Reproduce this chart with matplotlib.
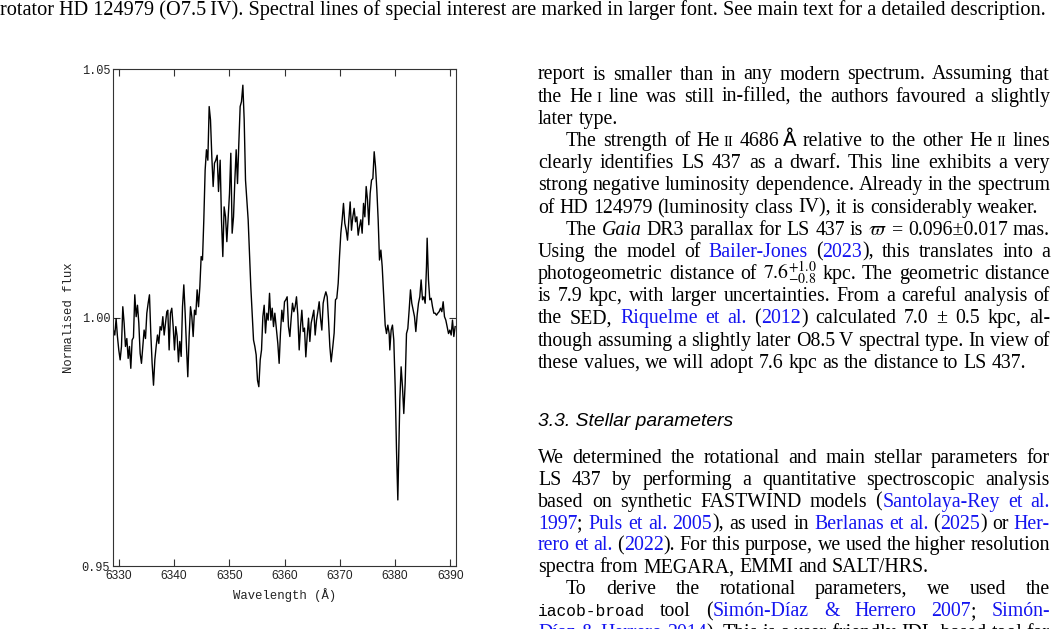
import matplotlib
matplotlib.use('Agg')
import matplotlib.pyplot as plt

plt.rcParams['mathtext.fontset'] = 'stix'

# spectrum (wavelength in A, normalised flux)
wave = [6329.03, 6329.27, 6329.51, 6329.75, 6329.99, 6330.24, 6330.48, 6330.72, 6330.96, 6331.20,
        6331.45, 6331.69, 6331.93, 6332.17, 6332.41, 6332.65, 6332.89, 6333.14, 6333.38, 6333.62,
        6333.86, 6334.10, 6334.34, 6334.58, 6334.83, 6335.07, 6335.31, 6335.55, 6335.79, 6336.03,
        6336.28, 6336.52, 6336.76, 6337.00, 6337.24, 6337.48, 6337.72, 6337.97, 6338.21, 6338.45,
        6338.69,
        6338.87, 6339.11, 6339.35, 6339.59, 6339.84, 6340.08, 6340.32, 6340.56, 6340.80, 6341.04,
        6341.29, 6341.53, 6341.77, 6342.01, 6342.25, 6342.49, 6342.73, 6342.98, 6343.22, 6343.46,
        6343.70, 6343.94, 6344.18, 6344.43, 6344.67, 6344.91, 6345.15, 6345.39, 6345.63, 6345.87,
        6346.12, 6346.36, 6346.60, 6346.84, 6347.08, 6347.32, 6347.56, 6347.81, 6348.05,
        6348.35, 6348.59, 6348.83, 6349.07, 6349.32, 6349.56, 6349.80, 6350.04, 6350.28, 6350.52,
        6350.77, 6351.01, 6351.25, 6351.49, 6351.73, 6351.97, 6352.21, 6352.46, 6352.70, 6352.94,
        6353.18, 6353.42, 6353.66, 6353.90, 6354.15, 6354.39, 6354.63, 6354.87, 6355.11, 6355.35,
        6355.60, 6355.84, 6356.08, 6356.32, 6356.56, 6356.80, 6357.04, 6357.29, 6357.53, 6357.77,
        6358.01, 6358.25,
        6358.55, 6358.79, 6359.03, 6359.27, 6359.52, 6359.76, 6360.00, 6360.24, 6360.48, 6360.72,
        6360.97, 6361.21, 6361.45, 6361.69, 6361.93, 6362.17, 6362.41, 6362.66, 6362.90, 6363.14,
        6363.38, 6363.62, 6363.86, 6364.10, 6364.35, 6364.59, 6364.83, 6365.07, 6365.31, 6365.55,
        6365.80, 6366.04, 6366.28, 6366.52, 6366.76, 6367.00, 6367.24, 6367.49, 6367.73, 6367.97,
        6368.21, 6368.45,
        6368.75, 6368.99, 6369.23, 6369.47, 6369.72, 6369.96, 6370.20, 6370.44, 6370.68, 6370.92,
        6371.17, 6371.41, 6371.65, 6371.89, 6372.13, 6372.37, 6372.61, 6372.86, 6373.10, 6373.34,
        6373.58, 6373.82, 6374.06, 6374.31, 6374.55, 6374.79, 6375.03, 6375.27, 6375.51, 6375.76,
        6376.00, 6376.24, 6376.48, 6376.72, 6376.96, 6377.20, 6377.45, 6377.69, 6377.93,
        6378.23, 6378.47, 6378.71, 6378.95, 6379.07, 6379.31, 6379.55, 6379.79, 6380.04, 6380.28,
        6380.52, 6380.70, 6380.88, 6381.12, 6381.36, 6381.60, 6381.85, 6382.09, 6382.33, 6382.57,
        6382.81, 6383.05, 6383.30, 6383.54, 6383.78, 6384.02, 6384.26, 6384.50, 6384.74, 6384.99,
        6385.23, 6385.47, 6385.71, 6385.83, 6386.07, 6386.31, 6386.56, 6386.80, 6387.04, 6387.28,
        6387.52, 6387.76, 6388.00, 6388.25, 6388.49, 6388.73, 6388.97, 6389.21, 6389.45, 6389.70,
        6389.94, 6390.18, 6390.42, 6390.66, 6390.90]

flux = [0.9975, 0.9965, 0.9998, 0.9962, 0.9935, 0.9915, 0.9942, 1.0022, 0.9989, 0.9942,
        0.9958, 0.9918, 0.9942, 0.9898, 0.9955, 0.9960, 1.0046, 1.0002, 1.0025, 0.9989,
        0.9928, 0.9908, 0.9942, 0.9975, 0.9958, 1.0009, 1.0029, 1.0046, 0.9968, 0.9908,
        0.9864, 0.9915, 0.9942, 0.9965, 0.9948, 0.9982, 0.9975, 1.0002, 0.9965, 0.9989,
        1.0012,
        1.0015, 0.9935, 1.0009, 1.0019, 0.9982, 0.9935, 0.9982, 0.9962, 0.9911, 0.9952,
        0.9922, 1.0022, 1.0066, 1.0009, 0.9942, 0.9881, 0.9962, 1.0022, 1.0002, 0.9962,
        1.0015, 1.0006, 1.0056, 1.0022, 1.0062, 1.0123, 1.0116, 1.0197, 1.0297, 1.0338,
        1.0317, 1.0425, 1.0398, 1.0324, 1.0264, 1.0311, 1.0317, 1.0327, 1.0254,
        1.0317, 1.0197, 1.0123, 1.0223, 1.0203, 1.0153, 1.0203, 1.0250, 1.0331, 1.0170,
        1.0203, 1.0277, 1.0338, 1.0270, 1.0351, 1.0425, 1.0435, 1.0468, 1.0398, 1.0277,
        1.0237, 1.0197, 1.0130, 1.0062, 1.0009, 0.9955, 0.9942, 0.9925, 0.9874, 0.9861,
        0.9915, 0.9935, 1.0002, 1.0025, 0.9969, 1.0009, 0.9995, 1.0049, 0.9995, 1.0019,
        0.9982, 1.0009,
        0.9975, 0.9948, 0.9908, 0.9969, 1.0015, 0.9992, 1.0032, 1.0036, 1.0042, 0.9982,
        0.9962, 0.9999, 1.0029, 1.0012, 1.0022, 1.0042, 1.0005, 0.9935, 0.9982, 1.0015,
        0.9972, 0.9979, 0.9921, 0.9962, 0.9999, 0.9952, 0.9989, 1.0002, 1.0015, 0.9965,
        0.9995, 1.0012, 1.0032, 0.9999, 0.9975, 1.0029, 1.0042, 1.0052, 1.0042, 0.9995,
        0.9942, 0.9911,
        0.9942, 0.9969, 1.0036, 1.0039, 1.0069, 1.0123, 1.0170, 1.0197, 1.0230, 1.0190,
        1.0176, 1.0156, 1.0197, 1.0233, 1.0176, 1.0203, 1.0220, 1.0193, 1.0203, 1.0166,
        1.0183, 1.0197, 1.0170, 1.0230, 1.0203, 1.0264, 1.0237, 1.0187, 1.0250, 1.0277,
        1.0280, 1.0334, 1.0304, 1.0257, 1.0197, 1.0116, 1.0136, 1.0103, 1.0049,
        0.9985, 0.9968, 0.9985, 0.9968, 0.9935, 0.9975, 0.9985, 0.9955, 0.9861, 0.9734,
        0.9633, 0.9734, 0.9834, 0.9901, 0.9861, 0.9807, 0.9868, 0.9968, 0.9978, 1.0015,
        1.0056, 1.0029, 1.0015, 1.0002, 0.9972, 1.0005, 1.0029, 1.0042, 1.0076, 1.0036,
        1.0042, 1.0029, 1.0103, 1.0160, 1.0076, 1.0036, 1.0039, 1.0022, 1.0009, 1.0009,
        1.0005, 1.0009, 1.0012, 1.0019, 1.0012, 1.0032, 1.0002, 0.9995, 0.9982, 0.9968,
        0.9975, 0.9965, 0.9995, 0.9962, 0.9982]

xticks = [6330, 6340, 6350, 6360, 6370, 6380, 6390]
yticks = [0.95, 1.00, 1.05]

W, H = 1058, 629
fig = plt.figure(figsize=(W / 100, H / 100), dpi=100)
fig.patch.set_facecolor('white')

ax = fig.add_axes([113.3 / W, 1 - 566 / H, (455.7 - 113.3) / W, (566 - 69.3) / H])
ax.plot(wave, flux, color='black', lw=1.0)
ax.set_xlim(6329.0, 6391.0)
ax.set_ylim(0.95, 1.05)
ax.set_xticks(xticks)
ax.set_yticks(yticks)
ax.set_xticklabels([str(t) for t in xticks], family='Liberation Sans', fontsize=8.6, color='#222222')
ax.set_yticklabels(['%.2f' % t for t in yticks], family='Liberation Mono', fontsize=8.6, color='#222222')
ax.tick_params(direction='in', length=5, width=0.8, top=True, right=True, color='#333333')
ax.tick_params(axis='x', pad=3.2)
ax.tick_params(axis='y', pad=2.2)
for s in ax.spines.values():
    s.set_linewidth(0.8)
    s.set_color('#333333')
ax.set_xlabel('Wavelength (Å)', family='Liberation Mono', fontsize=8.8, color='#222222', labelpad=4)
ax.set_ylabel('Normalised flux', family='Liberation Mono', fontsize=8.8, color='#222222', labelpad=5)

# ---- surrounding page text ----
renderer = fig.canvas.get_renderer()
BODY = 14.3
BLUE = '#1414f0'
STY = {
    'n': dict(family='Liberation Serif', color='black'),
    'b': dict(family='Liberation Serif', color=BLUE),
    'i': dict(family='Liberation Serif', style='italic', color='black'),
    'm': dict(family='Liberation Mono', color='black'),
    'mt': dict(color='black'),
    'sc': dict(family='Liberation Serif', color='black'),
}
SCALE = {'sc': 0.72, 'm': 0.82}


def words_of(runs):
    words = [[]]
    for txt, kind in runs:
        if kind in ('thin', 'sc', 'mt'):
            words[-1].append((txt, kind))
            continue
        parts = txt.split(' ')
        for i, p in enumerate(parts):
            if i > 0:
                words.append([])
            if p:
                words[-1].append((p, kind))
    return [w for w in words if w]


def put_line(runs, yc, x0=538, x1=1050, justify=True, indent=0, size=BODY):
    ws = words_of(runs)
    placed = []
    widths = []
    em = size * 100 / 72
    for w in ws:
        frags = []
        tot = 0
        for txt, kind in w:
            if kind == 'thin':
                frags.append((None, em * 0.17))
                tot += em * 0.17
                continue
            fs = size * SCALE.get(kind, 1.0)
            t = fig.text(0, 0, txt, fontsize=fs, va='baseline', ha='left', **STY[kind])
            wd = t.get_window_extent(renderer).width
            frags.append((t, wd))
            tot += wd
        placed.append(frags)
        widths.append(tot)
    avail = x1 - x0 - indent
    if justify and len(ws) > 1:
        gap = (avail - sum(widths)) / (len(ws) - 1)
    else:
        gap = em * 0.25
    x = x0 + indent
    yb = yc + 4.5
    for frags, tw in zip(placed, widths):
        for t, wd in frags:
            if t is not None:
                t.set_position((x / W, 1 - yb / H))
            x += wd
        x += gap


# caption fragment at top of the page (last caption line, natural spacing)
caption = ("rotator HD 124979 (O7.5\u2009IV). Spectral lines of special interest are marked in larger font. "
           "See main text for a detailed description.")
probe = fig.text(0, 0, caption, fontsize=10, family='Liberation Serif')
cap_size = 10 * 1045 / probe.get_window_extent(renderer).width
probe.remove()
fig.text(0, 1 - 14.5 / H, caption, fontsize=cap_size, family='Liberation Serif', va='baseline', ha='left')

col1 = [
    ([("report is smaller than in any modern spectrum. Assuming that", 'n')], True, 0),
    ([("the He", 'n'), ("", 'thin'), ("I", 'sc'), (" line was still in-filled, the authors favoured a slightly", 'n')], True, 0),
    ([("later type.", 'n')], False, 0),
    ([("The strength of He", 'n'), ("", 'thin'), ("II", 'sc'), (" 4686", 'n'), ("", 'thin'), ("Å", 'mt'),
      (" relative to the other He", 'n'), ("", 'thin'), ("II", 'sc'), (" lines", 'n')], True, 28),
    ([("clearly identifies LS 437 as a dwarf. This line exhibits a very", 'n')], True, 0),
    ([("strong negative luminosity dependence. Already in the spectrum", 'n')], True, 0),
    ([("of HD 124979 (luminosity class IV), it is considerably weaker.", 'n')], False, 0),
    ([("The ", 'n'), ("Gaia", 'i'), (" DR3 parallax for LS 437 is ", 'n'), (r"$\varpi$", 'mt'),
      (" = 0.096±0.017 mas.", 'n')], True, 28),
    ([("Using the model of ", 'n'), ("Bailer-Jones", 'b'), (" (", 'n'), ("2023", 'b'),
      ("), this translates into a", 'n')], True, 0),
    ([("photogeometric distance of ", 'n'), (r"$7.6^{+1.0}_{-0.8}$", 'mt'),
      (" kpc. The geometric distance", 'n')], True, 0),
    ([("is 7.9 kpc, with larger uncertainties. From a careful analysis of", 'n')], True, 0),
    ([("the SED, ", 'n'), ("Riquelme et al.", 'b'), (" (", 'n'), ("2012", 'b'),
      (") calculated 7.0 ± 0.5 kpc, al-", 'n')], True, 0),
    ([("though assuming a slightly later O8.5", 'n'), ("", 'thin'), ("V spectral type. In view of", 'n')], True, 0),
    ([("these values, we will adopt 7.6 kpc as the distance to LS 437.", 'n')], False, 0),
]
for i, (runs, just, ind) in enumerate(col1):
    put_line(runs, 75 + 22.18 * i, justify=just, indent=ind)

fig.text(538 / W, 1 - 426.5 / H, '3.3. Stellar parameters', family='Liberation Sans', style='italic',
         fontsize=13.9, va='baseline', ha='left', color='black')

col2 = [
    ([("We determined the rotational and main stellar parameters for", 'n')], True, 0),
    ([("LS 437 by performing a quantitative spectroscopic analysis", 'n')], True, 0),
    ([("based on synthetic FASTWIND models (", 'n'), ("Santolaya-Rey et al.", 'b')], True, 0),
    ([("1997", 'b'), ("; ", 'n'), ("Puls et al. 2005", 'b'), ("), as used in ", 'n'), ("Berlanas et al.", 'b'),
      (" (", 'n'), ("2025", 'b'), (") or ", 'n'), ("Her-", 'b')], True, 0),
    ([("rero et al.", 'b'), (" (", 'n'), ("2022", 'b'),
      ("). For this purpose, we used the higher resolution", 'n')], True, 0),
    ([("spectra from MEGARA, EMMI and SALT/HRS.", 'n')], False, 0),
    ([("To derive the rotational parameters, we used the", 'n')], True, 28),
    ([("iacob-broad", 'm'), (" tool (", 'n'), ("Simón-Díaz & Herrero 2007", 'b'), ("; ", 'n'),
      ("Simón-", 'b')], True, 0),
    ([("Díaz & Herrero 2014", 'b'), ("). This is a user-friendly IDL-based tool for", 'n')], True, 0),
]
for j, (runs, just, ind) in enumerate(col2):
    put_line(runs, 458.3 + 21.92 * j, justify=just, indent=ind)

fig.savefig('out.png', dpi=100)
